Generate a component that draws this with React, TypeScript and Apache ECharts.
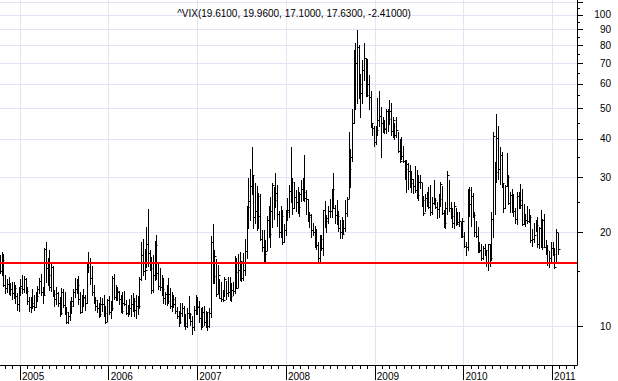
import React, { useEffect, useRef } from "react";
import * as echarts from "echarts";

const TITLE = "^VIX(19.6100, 19.9600, 17.1000, 17.6300, -2.41000)";
const FIRST_WEEK = Date.UTC(2004, 9, 11); // Monday of the first weekly bar
const yearLabels = ["2005", "2006", "2007", "2008", "2009", "2010", "2011"];
const labelPrices = [10, 20, 30, 40, 50, 60, 70, 80, 90, 100];
const gridPrices = [10, 20, 30, 40, 50, 60, 70, 80, 90, 100, 110];
const minorPrices = [15, 25, 35, 45, 55, 65, 75, 85, 95, 105];
const supportLevel = 16;

// weekly bars: [high, low, close]
const bars2004 = [
  [16.9, 14.8, 15.0], [17.3, 14.6, 16.3], [17.0, 13.5, 13.6], [14.6, 12.8, 13.3],
  [14.2, 12.9, 13.7], [14.4, 12.7, 13.2], [13.8, 12.6, 13.2], [13.9, 12.2, 12.8],
  [13.9, 12.3, 13.3], [13.6, 11.9, 12.5], [12.8, 11.3, 11.8], [13.4, 11.2, 13.3],
];
const bars2005 = [
  [14.2, 12.6, 13.5], [14.6, 12.8, 13.2], [14.5, 12.9, 14.2], [14.3, 12.8, 13.0],
  [13.4, 11.8, 12.0], [12.4, 11.2, 11.5], [12.4, 11.1, 11.9], [13.2, 11.4, 11.6],
  [12.6, 11.3, 11.5], [12.9, 11.5, 12.5], [13.5, 12.0, 13.2], [14.3, 12.8, 14.0],
  [14.7, 12.6, 12.9], [13.4, 11.9, 12.6], [17.8, 12.7, 17.7], [18.6, 13.9, 15.4],
  [16.6, 13.6, 14.6], [17.5, 13.1, 13.4], [16.1, 13.0, 15.5], [15.6, 12.5, 12.7],
  [13.1, 11.6, 12.2], [13.4, 11.8, 12.8], [12.9, 11.6, 11.9], [12.4, 10.8, 11.0],
  [13.3, 10.9, 12.9], [13.2, 11.5, 11.7], [12.9, 10.9, 11.1], [11.5, 10.2, 10.3],
  [11.1, 10.2, 10.8], [12.0, 10.5, 11.6], [12.4, 11.0, 12.0], [13.2, 11.6, 12.9],
  [14.3, 12.4, 13.2], [14.2, 12.8, 13.6], [14.5, 11.8, 12.2], [12.9, 11.0, 11.1],
  [12.6, 11.1, 12.3], [13.2, 11.6, 12.4], [12.6, 11.3, 11.9], [15.8, 11.9, 15.5],
  [17.3, 14.9, 15.9], [16.5, 13.7, 14.3], [15.6, 12.6, 12.9], [13.6, 11.9, 12.1],
  [12.4, 11.3, 11.6], [12.1, 11.1, 11.4], [11.9, 10.7, 10.9], [12.4, 10.8, 11.8],
  [12.3, 11.2, 11.8], [12.6, 10.8, 11.0], [11.6, 10.2, 10.3], [12.2, 10.4, 12.1],
];
const bars2006 = [
  [12.5, 10.9, 11.1], [12.0, 10.6, 11.4], [14.5, 11.3, 14.3], [14.7, 12.2, 12.4],
  [13.6, 12.1, 13.0], [13.4, 12.1, 12.9], [13.0, 11.8, 12.2], [12.6, 11.1, 11.2],
  [12.9, 11.0, 11.9], [13.0, 11.7, 11.8], [12.1, 10.9, 11.0], [11.7, 10.8, 11.4],
  [12.2, 10.9, 11.4], [12.6, 10.8, 11.8], [12.8, 11.2, 12.0], [12.3, 10.8, 11.3],
  [12.6, 10.6, 11.6], [12.5, 10.9, 11.6], [14.4, 11.4, 14.2], [18.6, 14.1, 16.9],
  [19.0, 14.6, 15.0], [17.7, 14.2, 15.1], [20.8, 15.5, 18.4], [23.8, 15.6, 17.2],
  [17.6, 15.2, 15.4], [16.7, 12.8, 13.1], [16.9, 12.9, 14.6], [18.8, 14.1, 18.2],
  [19.6, 14.2, 14.8], [16.0, 13.2, 13.5], [15.4, 13.1, 13.4], [14.6, 12.6, 13.2],
  [14.3, 11.9, 12.3], [12.9, 11.8, 12.7], [13.6, 11.7, 12.0], [14.3, 11.9, 12.7],
  [13.3, 11.4, 11.6], [12.9, 11.2, 12.2], [12.6, 11.5, 11.8], [12.4, 11.0, 11.2],
  [11.5, 10.6, 10.8], [11.2, 10.0, 10.3], [11.9, 10.2, 11.0], [11.9, 10.8, 11.4],
  [11.6, 10.0, 10.2], [10.9, 9.8, 10.0], [11.4, 9.9, 11.0], [12.5, 10.6, 10.9],
  [11.0, 10.1, 10.4], [10.8, 9.4, 9.9], [11.6, 9.7, 11.3], [12.6, 10.9, 11.6],
];
const bars2007 = [
  [12.4, 10.9, 11.5], [12.0, 10.3, 10.6], [11.4, 9.8, 10.0], [11.5, 9.9, 11.1],
  [11.6, 10.1, 10.3], [11.2, 9.9, 11.1], [11.1, 9.7, 10.0], [11.4, 9.9, 11.0],
  [19.5, 10.7, 18.6], [21.3, 13.8, 14.5], [17.5, 13.8, 16.8], [16.4, 12.5, 12.7],
  [15.7, 12.8, 14.6], [14.2, 12.3, 12.3], [13.9, 12.0, 12.2], [13.1, 12.0, 12.1],
  [14.4, 12.5, 14.2], [14.0, 12.2, 12.8], [14.4, 12.5, 12.9], [14.4, 12.1, 12.5],
  [13.8, 12.0, 13.1], [13.9, 12.6, 13.0], [16.8, 12.8, 14.9], [16.5, 13.3, 13.3],
  [17.0, 13.4, 15.1], [17.3, 14.1, 16.2], [16.0, 14.0, 14.3], [17.2, 14.1, 15.2],
  [19.0, 14.6, 17.4], [24.3, 16.5, 24.2], [30.0, 20.6, 25.2], [31.9, 22.0, 28.1],
  [37.6, 26.5, 30.7], [30.6, 20.7, 22.5], [28.9, 21.4, 23.4], [28.2, 20.3, 26.2],
  [26.8, 20.6, 22.6], [26.5, 18.9, 19.0], [20.4, 17.4, 18.0], [20.4, 16.2, 17.0],
  [18.9, 16.2, 17.4], [22.6, 17.6, 22.0], [24.4, 19.4, 19.8], [26.0, 18.0, 23.4],
  [28.8, 20.8, 28.5], [27.9, 22.1, 25.5], [31.1, 24.1, 26.8], [28.5, 21.0, 22.9],
  [23.5, 19.3, 20.0], [24.4, 19.3, 22.6], [23.7, 18.4, 18.6], [21.3, 18.6, 20.3],
];
const bars2008 = [
  [23.6, 19.6, 23.2], [25.8, 22.0, 23.7], [28.5, 22.5, 27.2], [37.6, 25.0, 29.0],
  [30.0, 23.0, 24.0], [29.0, 24.0, 26.0], [27.4, 23.5, 25.0], [28.0, 23.1, 24.1],
  [27.0, 22.6, 26.5], [29.4, 25.2, 27.5], [30.0, 25.5, 27.0], [35.6, 25.2, 25.8],
  [27.4, 22.9, 25.7], [25.7, 21.8, 22.5], [23.3, 20.8, 22.7], [22.9, 19.3, 20.3],
  [21.4, 19.6, 20.0], [21.0, 17.9, 18.2], [20.5, 17.7, 18.2], [18.7, 15.9, 16.5],
  [19.6, 16.1, 19.0], [19.6, 17.6, 17.8], [23.6, 16.9, 23.6], [25.2, 20.8, 21.8],
  [22.8, 20.0, 22.2], [24.4, 21.5, 23.4], [25.6, 22.5, 23.4], [27.5, 22.5, 27.5],
  [31.0, 23.9, 24.0], [24.5, 21.4, 22.7], [25.5, 21.3, 22.6], [23.5, 20.2, 20.7],
  [22.0, 19.2, 20.0], [22.5, 19.2, 19.8], [22.0, 19.9, 20.7], [25.5, 20.2, 23.1],
  [26.0, 22.6, 25.7], [42.2, 25.8, 32.1], [37.0, 28.0, 35.0], [50.0, 33.9, 45.1],
  [76.9, 45.0, 69.9], [81.2, 50.0, 70.3], [89.5, 52.0, 79.1], [80.1, 54.0, 59.9],
  [64.4, 47.0, 56.1], [71.4, 52.0, 66.3], [81.5, 62.0, 72.7], [72.7, 55.0, 55.3],
  [72.0, 55.0, 59.9], [64.0, 50.0, 54.3], [57.0, 43.8, 44.9], [45.0, 41.0, 43.4],
];
const bars2009 = [
  [44.0, 38.0, 39.2], [44.0, 38.5, 42.8], [54.0, 41.0, 46.1], [57.0, 44.0, 47.3],
  [50.5, 35.0, 44.8], [47.0, 42.0, 43.4], [46.0, 41.6, 42.9], [50.0, 41.8, 49.3],
  [50.0, 42.5, 46.3], [53.2, 44.5, 49.3], [52.0, 41.0, 42.4], [47.0, 40.6, 45.9],
  [45.0, 40.0, 41.0], [47.0, 40.5, 42.8], [42.0, 36.4, 36.5], [40.0, 33.8, 34.0],
  [40.4, 34.4, 35.2], [38.0, 33.7, 34.0], [34.3, 29.6, 32.0], [34.2, 27.0, 33.1],
  [33.5, 27.5, 31.4], [33.0, 28.0, 28.9], [31.5, 27.0, 29.6], [29.7, 26.8, 28.2],
  [32.6, 26.9, 27.3], [31.8, 25.9, 26.4], [30.7, 25.5, 29.1], [30.5, 27.7, 29.0],
  [28.8, 24.3, 25.4], [26.2, 22.8, 23.1], [26.5, 23.4, 25.9], [27.0, 24.4, 25.0],
  [28.0, 23.9, 24.2], [28.4, 22.7, 23.3], [26.0, 23.0, 24.8], [29.5, 24.7, 25.4],
  [25.8, 23.9, 24.1], [25.0, 22.3, 23.8], [26.5, 22.5, 25.6], [29.0, 24.4, 28.7],
  [28.3, 22.9, 23.1], [23.6, 20.8, 21.4], [25.0, 20.6, 24.0], [31.6, 23.0, 30.7],
  [29.5, 23.5, 23.9], [25.0, 22.2, 22.6], [23.9, 20.8, 21.5], [25.0, 20.6, 24.4],
  [24.0, 21.2, 21.3], [23.3, 21.3, 21.6], [23.2, 21.0, 21.7], [21.6, 19.3, 19.5],
];
const bars2010 = [
  [22.3, 19.4, 21.7], [20.1, 17.9, 18.1], [18.6, 16.9, 17.9], [27.6, 17.6, 27.3],
  [28.0, 22.6, 24.6], [28.0, 21.0, 26.1], [26.7, 22.5, 22.7], [23.3, 19.5, 20.0],
  [21.8, 19.4, 19.5], [20.9, 17.3, 17.4], [18.6, 17.3, 17.6], [18.3, 16.3, 16.6],
  [18.1, 16.4, 17.8], [18.4, 16.9, 17.5], [17.4, 15.6, 16.1], [18.4, 15.2, 18.4],
  [18.4, 15.6, 16.6], [23.2, 16.3, 22.1], [42.2, 19.4, 40.9], [33.8, 22.9, 31.2],
  [48.0, 29.0, 40.1], [44.0, 29.8, 32.1], [37.7, 28.7, 35.5], [36.3, 28.0, 28.8],
  [28.9, 23.2, 24.0], [28.5, 24.0, 28.3], [36.0, 28.1, 30.1], [30.5, 24.6, 24.9],
  [26.9, 23.3, 26.3], [27.5, 23.2, 23.5], [26.5, 22.6, 23.5], [24.0, 21.4, 22.1],
  [27.0, 21.3, 26.2], [27.0, 23.9, 25.5], [28.6, 24.0, 24.5], [27.5, 21.1, 21.3],
  [24.6, 21.3, 21.9], [23.0, 21.0, 22.0], [24.3, 21.5, 21.7], [23.8, 21.6, 22.5],
  [22.7, 18.6, 18.9], [20.5, 18.1, 19.0], [21.4, 18.6, 19.6], [22.0, 20.2, 21.2],
  [22.5, 18.0, 18.3], [20.9, 17.8, 20.6], [23.7, 17.9, 18.0], [22.1, 17.7, 22.0],
  [23.0, 18.0, 18.0], [18.9, 17.0, 17.5], [18.2, 15.7, 16.1], [17.4, 15.5, 16.6],
  [18.6, 15.9, 17.8],
];
const bars2011 = [
  [18.6, 16.9, 17.1], [17.8, 15.4, 15.5], [20.5, 16.0, 20.04], [19.96, 17.1, 17.63],
];

const allBars = [
  ...bars2004, ...bars2005, ...bars2006, ...bars2007,
  ...bars2008, ...bars2009, ...bars2010, ...bars2011,
];

const FONT = "'Liberation Sans', Arial, sans-serif";
const GRID_COLOR = "#E3E3F7";

export default function App() {
  const ref = useRef<HTMLDivElement>(null);

  useEffect(() => {
    if (!ref.current) return;
    const chart = echarts.init(ref.current, null, { renderer: "svg" });

    const DAY = 86400000;
    const YEAR = 365.25 * DAY;
    const jan2005 = Date.UTC(2005, 0, 1);
    const pxPerYear = 88.7;
    const xMin = jan2005 - (20 / pxPerYear) * YEAR;
    const xMax = jan2005 + (557 / pxPerYear) * YEAR;

    const data = allBars.map((b, i) => [FIRST_WEEK + i * 7 * DAY, b[0], b[1], b[2]]);
    const yearTicks = yearLabels.map((y) => Date.UTC(Number(y), 0, 1));
    const monthTicks: number[] = [];
    for (let y = 2004; y <= 2011; y++) {
      for (let m = 0; m < 12; m++) {
        const t = Date.UTC(y, m, 1);
        if (t > xMin && t < xMax) monthTicks.push(t);
      }
    }

    const yMin = 7.5;
    const yMax = 111.7;

    chart.setOption({
      animation: false,
      backgroundColor: "#ffffff",
      title: {
        text: TITLE,
        left: 289,
        top: 3,
        textAlign: "center",
        textStyle: { fontSize: 10, fontWeight: "normal", color: "#000", fontFamily: FONT },
      },
      grid: { left: 0, right: 41, top: 0, bottom: 15, containLabel: false },
      xAxis: [
        {
          type: "value",
          min: xMin,
          max: xMax,
          position: "bottom",
          axisLine: { show: true, lineStyle: { color: "#000", width: 1 } },
          axisTick: { show: true, length: 4, customValues: monthTicks, lineStyle: { color: "#000" } },
          axisLabel: { show: false },
          splitLine: { show: false },
        },
        {
          type: "value",
          min: xMin,
          max: xMax,
          position: "bottom",
          axisLine: { show: false },
          axisTick: { show: true, length: 15, customValues: yearTicks, lineStyle: { color: "#000" } },
          axisLabel: {
            show: true,
            customValues: yearTicks,
            formatter: (v: number) => String(new Date(v).getUTCFullYear()),
            align: "left",
            margin: 6,
            padding: [0, 0, 0, 2],
            fontSize: 10,
            color: "#000",
            fontFamily: FONT,
          },
          splitLine: { show: true, lineStyle: { color: GRID_COLOR, width: 1 } },
        },
      ],
      yAxis: [
        {
          type: "log",
          logBase: 10,
          min: yMin,
          max: yMax,
          position: "right",
          axisLine: { show: true, lineStyle: { color: "#000", width: 1 } },
          axisTick: { show: true, length: 6, customValues: gridPrices, lineStyle: { color: "#000" } },
          axisLabel: {
            show: true,
            customValues: labelPrices,
            align: "right",
            margin: 34,
            fontSize: 10,
            color: "#000",
            fontFamily: FONT,
          },
          splitLine: { show: true, lineStyle: { color: GRID_COLOR, width: 1 } },
        },
        {
          type: "log",
          logBase: 10,
          min: yMin,
          max: yMax,
          position: "right",
          offset: 0,
          axisLine: { show: false },
          axisTick: { show: true, length: 3, customValues: minorPrices, lineStyle: { color: "#000" } },
          axisLabel: { show: false },
          splitLine: { show: false },
        },
      ],
      series: [
        {
          type: "custom",
          xAxisIndex: 0,
          yAxisIndex: 0,
          z: 3,
          encode: { x: 0, y: [1, 2, 3] },
          data,
          renderItem: (_params: any, api: any) => {
            const t = api.value(0);
            const hi = api.coord([t, api.value(1)]);
            const lo = api.coord([t, api.value(2)]);
            const cl = api.coord([t, api.value(3)]);
            const x = Math.round(hi[0]) + 0.5;
            const yc = Math.round(cl[1]) + 0.5;
            return {
              type: "group",
              children: [
                {
                  type: "line",
                  shape: { x1: x, y1: Math.round(hi[1]), x2: x, y2: Math.round(lo[1]) + 1 },
                  style: { stroke: "#000", lineWidth: 1 },
                },
                {
                  type: "line",
                  shape: { x1: x, y1: yc, x2: x + 2, y2: yc },
                  style: { stroke: "#000", lineWidth: 1 },
                },
              ],
            };
          },
          markLine: {
            silent: true,
            symbol: ["none", "none"],
            label: { show: false },
            lineStyle: { color: "#FF0000", width: 2, type: "solid" },
            data: [{ yAxis: supportLevel }],
            z: 10,
          },
        },
      ],
    });

    return () => chart.dispose();
  }, []);

  return (
    <div
      ref={ref}
      style={{ position: "absolute", left: 0, top: 0, width: 618, height: 381, background: "#fff" }}
    />
  );
}
